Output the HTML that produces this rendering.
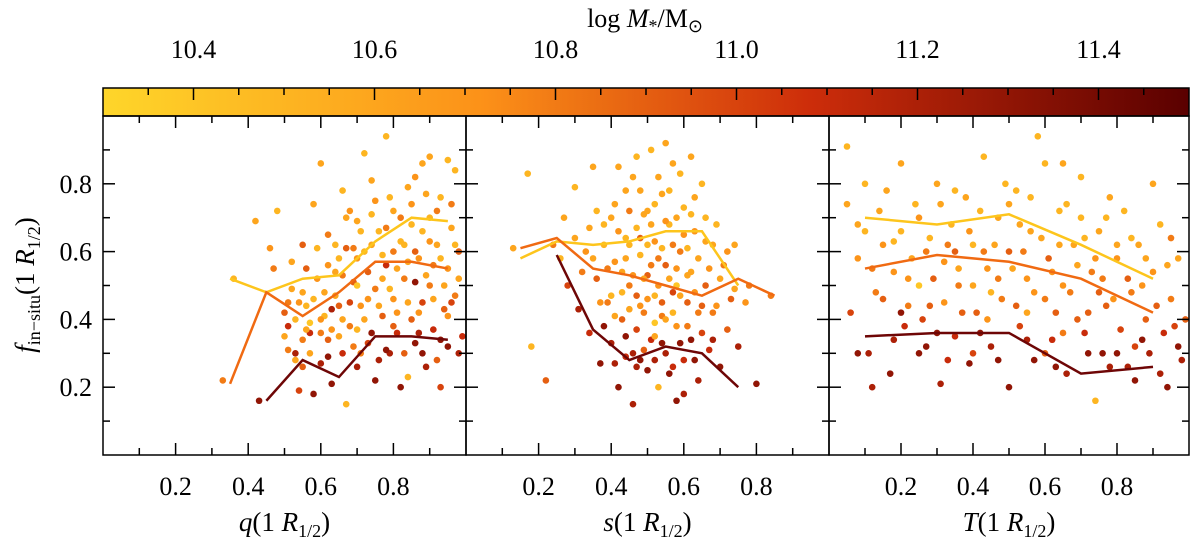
<!DOCTYPE html>
<html><head><meta charset="utf-8"><style>
body{margin:0;background:#fff;width:1200px;height:542px;overflow:hidden}
svg text{font-family:"Liberation Serif",serif;fill:#000}
</style></head><body>
<svg id="c" width="1200" height="542" xmlns="http://www.w3.org/2000/svg"></svg>
<script>
// ---- data ----
const cbTicks=[10.4,10.6,10.8,11.0,11.2,11.4];
const xTicks=[0.2,0.4,0.6,0.8];
const yTicks=[0.2,0.4,0.6,0.8];
const panelTitles=["q","s","T"];
// points: [x, f_insitu, logM]
const ptsQ=[[0.33,0.22,10.8],[0.36,0.52,10.5],[0.42,0.69,10.6],[0.43,0.16,11.3],[0.46,0.61,10.7],[0.47,0.55,10.8],[0.48,0.72,10.5],[0.5,0.42,10.9],[0.51,0.38,11.1],[0.52,0.57,10.6],[0.53,0.3,11.2],[0.54,0.19,11.0],[0.55,0.34,10.8],[0.55,0.62,10.9],[0.56,0.44,10.5],[0.57,0.36,11.1],[0.58,0.74,10.6],[0.58,0.18,11.3],[0.59,0.52,10.7],[0.6,0.27,11.2],[0.61,0.41,10.5],[0.62,0.65,10.8],[0.62,0.34,10.9],[0.63,0.21,11.3],[0.64,0.47,10.6],[0.65,0.58,10.5],[0.66,0.3,11.1],[0.66,0.78,10.5],[0.67,0.15,10.5],[0.68,0.38,10.8],[0.69,0.51,10.9],[0.7,0.69,10.6],[0.7,0.26,11.2],[0.71,0.44,10.7],[0.72,0.6,10.5],[0.73,0.33,11.0],[0.74,0.81,10.6],[0.75,0.49,10.8],[0.75,0.22,11.3],[0.76,0.66,10.5],[0.77,0.41,10.9],[0.78,0.56,11.1],[0.78,0.94,10.5],[0.79,0.3,11.2],[0.8,0.72,10.6],[0.8,0.46,10.7],[0.81,0.36,11.1],[0.82,0.63,10.5],[0.82,0.2,11.3],[0.83,0.52,10.8],[0.84,0.79,10.6],[0.85,0.4,10.9],[0.85,0.68,10.5],[0.86,0.33,11.3],[0.87,0.58,10.7],[0.88,0.45,11.0],[0.88,0.86,10.6],[0.89,0.26,11.2],[0.9,0.7,10.5],[0.9,0.5,10.8],[0.91,0.37,11.1],[0.92,0.62,10.6],[0.93,0.76,10.5],[0.93,0.2,11.0],[0.94,0.43,10.9],[0.95,0.55,10.7],[0.95,0.32,11.3],[0.96,0.67,10.6],[0.97,0.84,10.5],[0.97,0.47,10.8],[0.98,0.3,11.2],[0.98,0.6,10.9],[0.6,0.86,10.6],[0.68,0.72,10.7],[0.72,0.89,10.5],[0.52,0.49,10.6],[0.57,0.39,10.4],[0.63,0.37,10.7],[0.74,0.36,11.3],[0.86,0.51,11.3],[0.92,0.28,10.9],[0.84,0.23,10.5],[0.78,0.31,11.3],[0.65,0.44,10.9],[0.55,0.26,10.9],[0.9,0.88,10.6],[0.8,0.6,10.8],[0.7,0.5,10.4],
[0.5,0.35,10.6],[0.51,0.31,10.8],[0.53,0.4,10.5],[0.54,0.45,10.7],[0.56,0.55,10.9],[0.57,0.3,10.6],[0.59,0.61,10.5],[0.6,0.36,10.8],[0.61,0.48,10.6],[0.62,0.56,10.7],[0.63,0.43,11.2],[0.64,0.62,10.5],[0.65,0.35,10.6],[0.66,0.53,10.8],[0.67,0.7,10.6],[0.68,0.45,11.0],[0.69,0.32,10.8],[0.7,0.58,10.7],[0.71,0.66,10.5],[0.72,0.4,10.6],[0.73,0.54,10.9],[0.74,0.62,10.6],[0.75,0.75,10.7],[0.76,0.44,10.6],[0.77,0.59,10.5],[0.78,0.67,10.8],[0.79,0.49,10.5],[0.8,0.38,10.9],[0.81,0.55,10.6],[0.82,0.7,10.8],[0.83,0.62,10.5],[0.84,0.45,10.6],[0.85,0.74,10.7],[0.86,0.6,10.9],[0.87,0.42,10.7],[0.88,0.66,10.5],[0.89,0.53,10.6],[0.9,0.63,10.7],[0.91,0.46,10.6],[0.92,0.72,10.8],[0.93,0.58,10.5],[0.94,0.5,10.6],[0.95,0.41,10.7],[0.96,0.74,10.8],[0.97,0.62,10.5],[0.98,0.52,10.6],[0.99,0.35,11.1],[0.76,0.28,11.2],[0.83,0.3,10.9],[0.87,0.36,11.2],[0.93,0.34,11.3],[0.71,0.3,10.8],[0.66,0.4,10.6],[0.58,0.46,10.5],[0.55,0.48,10.6],[0.62,0.29,11.3],[0.73,0.46,10.7],[0.89,0.77,10.6],[0.95,0.87,10.5],[0.79,0.76,10.5],[0.64,0.54,10.6],[0.69,0.61,10.8],[0.84,0.57,10.6],[0.91,0.56,10.8],[0.77,0.52,10.6],[0.6,0.4,10.7],[0.53,0.28,10.6],[0.96,0.45,11.0],[0.88,0.3,11.3],[0.74,0.71,10.5],[0.86,0.82,10.7],[0.67,0.61,10.9],[0.56,0.37,10.6],[0.51,0.45,10.8],[0.81,0.42,10.7],[0.7,0.37,10.5]];
const ptsS=[[0.13,0.61,10.6],[0.17,0.83,10.5],[0.18,0.32,10.5],[0.22,0.22,10.9],[0.24,0.62,10.8],[0.27,0.7,10.6],[0.28,0.5,11.0],[0.3,0.79,10.5],[0.31,0.43,11.2],[0.33,0.6,10.7],[0.34,0.36,11.1],[0.35,0.85,10.6],[0.36,0.52,10.9],[0.37,0.27,11.3],[0.38,0.68,10.5],[0.39,0.45,10.8],[0.4,0.33,11.2],[0.41,0.74,10.6],[0.41,0.57,10.7],[0.42,0.2,11.3],[0.43,0.4,10.9],[0.44,0.64,10.5],[0.44,0.29,11.1],[0.45,0.5,10.8],[0.46,0.82,10.6],[0.46,0.15,11.2],[0.47,0.37,11.0],[0.48,0.59,10.5],[0.48,0.44,10.7],[0.49,0.71,10.6],[0.5,0.25,11.3],[0.5,0.53,10.9],[0.51,0.9,10.5],[0.51,0.34,11.1],[0.52,0.63,10.7],[0.52,0.47,10.5],[0.53,0.2,10.5],[0.54,0.77,10.6],[0.54,0.41,10.8],[0.55,0.56,10.9],[0.55,0.3,11.2],[0.56,0.68,10.5],[0.57,0.48,11.0],[0.57,0.86,10.6],[0.58,0.38,10.7],[0.58,0.16,11.3],[0.59,0.6,10.8],[0.6,0.28,11.1],[0.6,0.73,10.5],[0.61,0.45,10.9],[0.62,0.54,10.6],[0.62,0.34,11.3],[0.63,0.66,10.7],[0.64,0.42,10.8],[0.64,0.22,11.2],[0.65,0.8,10.5],[0.66,0.5,10.9],[0.67,0.31,11.1],[0.68,0.62,10.6],[0.69,0.44,10.7],[0.7,0.26,11.3],[0.71,0.56,10.8],[0.72,0.37,10.9],[0.74,0.49,10.6],[0.75,0.32,11.2],[0.77,0.45,10.7],[0.8,0.21,11.3],[0.84,0.47,10.8],[0.45,0.62,10.5],[0.5,0.72,10.6],[0.53,0.58,10.8],[0.47,0.26,11.2],[0.56,0.24,11.3],[0.6,0.18,11.2],[0.43,0.54,10.6],[0.52,0.39,10.4],[0.58,0.5,10.4],[0.4,0.47,10.5],[0.36,0.72,10.5],[0.63,0.76,10.6],[0.49,0.31,10.9],[0.55,0.92,10.6],[0.61,0.61,10.5],[0.66,0.7,10.5],[0.42,0.85,10.6],[0.48,0.64,10.9],
[0.35,0.58,10.6],[0.37,0.45,10.7],[0.38,0.62,10.5],[0.39,0.55,10.8],[0.4,0.7,10.6],[0.41,0.41,10.6],[0.42,0.66,10.7],[0.43,0.48,10.5],[0.44,0.58,10.6],[0.45,0.72,10.8],[0.45,0.43,10.6],[0.46,0.53,10.7],[0.47,0.67,10.5],[0.47,0.47,10.9],[0.48,0.78,10.6],[0.49,0.52,10.6],[0.49,0.42,10.8],[0.5,0.62,10.5],[0.5,0.46,10.7],[0.51,0.68,10.6],[0.51,0.56,10.8],[0.52,0.74,10.5],[0.52,0.35,10.6],[0.53,0.5,10.7],[0.53,0.82,10.6],[0.54,0.61,10.5],[0.54,0.45,10.9],[0.55,0.69,10.7],[0.55,0.4,10.6],[0.56,0.52,10.6],[0.56,0.78,10.5],[0.57,0.62,10.8],[0.57,0.42,10.5],[0.58,0.7,10.6],[0.58,0.55,10.7],[0.59,0.47,10.6],[0.59,0.83,10.5],[0.6,0.65,10.7],[0.61,0.53,10.6],[0.61,0.38,10.8],[0.62,0.71,10.5],[0.63,0.48,10.7],[0.64,0.58,10.6],[0.65,0.44,10.9],[0.66,0.63,10.6],[0.67,0.55,10.7],[0.68,0.42,10.8],[0.69,0.68,10.5],[0.72,0.6,10.7],[0.73,0.46,10.9],[0.44,0.35,11.3],[0.46,0.3,11.2],[0.48,0.28,11.3],[0.52,0.28,11.2],[0.54,0.33,11.3],[0.57,0.26,11.1],[0.59,0.33,11.3],[0.63,0.28,11.3],[0.65,0.36,11.0],[0.41,0.27,11.2],[0.38,0.38,11.3],[0.68,0.34,11.2],[0.34,0.67,10.6],[0.32,0.54,10.8],[0.26,0.58,10.5],[0.3,0.64,10.6],[0.7,0.52,10.6],[0.74,0.62,10.6],[0.78,0.5,10.8],[0.47,0.88,10.5],[0.62,0.88,10.6],[0.44,0.78,10.6]];
const ptsT=[[0.05,0.91,10.5],[0.06,0.42,11.0],[0.08,0.68,10.6],[0.1,0.8,10.5],[0.11,0.3,11.2],[0.12,0.55,10.8],[0.14,0.72,10.6],[0.15,0.46,10.9],[0.17,0.24,11.3],[0.18,0.63,10.5],[0.2,0.86,10.6],[0.21,0.38,11.1],[0.22,0.52,10.7],[0.24,0.74,10.5],[0.25,0.3,11.3],[0.27,0.6,10.8],[0.28,0.44,10.9],[0.3,0.8,10.6],[0.31,0.21,11.2],[0.32,0.57,10.7],[0.34,0.68,10.5],[0.35,0.35,11.1],[0.36,0.5,10.8],[0.38,0.76,10.6],[0.39,0.27,11.3],[0.4,0.62,10.5],[0.41,0.42,10.9],[0.43,0.88,10.5],[0.44,0.55,10.7],[0.45,0.32,11.2],[0.47,0.7,10.6],[0.48,0.46,10.8],[0.5,0.2,11.3],[0.5,0.6,10.9],[0.52,0.78,10.5],[0.53,0.38,11.0],[0.55,0.52,10.7],[0.56,0.66,10.6],[0.57,0.28,11.3],[0.58,0.94,10.5],[0.6,0.46,10.8],[0.61,0.58,10.9],[0.62,0.34,11.1],[0.64,0.72,10.5],[0.65,0.5,10.7],[0.66,0.24,11.2],[0.68,0.62,10.6],[0.69,0.4,10.9],[0.7,0.82,10.5],[0.72,0.3,11.3],[0.73,0.54,10.8],[0.74,0.16,10.5],[0.75,0.66,10.6],[0.77,0.44,10.9],[0.78,0.26,11.2],[0.8,0.58,10.7],[0.81,0.37,11.0],[0.82,0.72,10.5],[0.84,0.48,10.8],[0.85,0.22,11.3],[0.86,0.62,10.6],[0.88,0.4,10.9],[0.89,0.3,11.2],[0.9,0.54,10.7],[0.92,0.68,10.5],[0.93,0.36,11.1],[0.94,0.2,11.3],[0.95,0.46,10.8],[0.97,0.58,10.6],[0.98,0.28,11.2],[0.99,0.4,10.9],[0.15,0.62,10.7],[0.25,0.5,10.4],[0.35,0.6,10.9],[0.45,0.48,10.5],[0.55,0.42,10.6],[0.65,0.36,10.8],[0.75,0.48,10.9],[0.85,0.32,11.0],[0.2,0.42,11.3],[0.4,0.3,11.0],[0.6,0.3,10.9],[0.8,0.3,11.3],[0.12,0.2,11.2],[0.3,0.36,11.3],[0.5,0.74,10.6],[0.7,0.7,10.5],[0.9,0.8,10.6],
[0.08,0.58,10.7],[0.1,0.66,10.5],[0.13,0.48,10.8],[0.16,0.78,10.6],[0.18,0.54,10.7],[0.2,0.66,10.5],[0.22,0.44,10.8],[0.23,0.58,10.6],[0.25,0.7,10.7],[0.26,0.4,11.0],[0.28,0.64,10.5],[0.29,0.52,10.9],[0.31,0.74,10.6],[0.32,0.45,10.7],[0.33,0.62,10.8],[0.35,0.78,10.5],[0.36,0.55,10.6],[0.37,0.42,10.9],[0.39,0.66,10.7],[0.4,0.5,10.6],[0.42,0.72,10.5],[0.43,0.6,10.8],[0.44,0.4,10.7],[0.46,0.62,10.6],[0.47,0.52,10.8],[0.49,0.8,10.5],[0.51,0.55,10.6],[0.52,0.44,10.9],[0.53,0.68,10.6],[0.54,0.6,10.8],[0.56,0.76,10.5],[0.57,0.48,10.7],[0.59,0.64,10.6],[0.6,0.86,10.5],[0.62,0.54,10.7],[0.63,0.42,10.9],[0.64,0.62,10.6],[0.66,0.74,10.5],[0.67,0.48,10.8],[0.69,0.56,10.6],[0.71,0.64,10.5],[0.72,0.42,10.9],[0.74,0.58,10.7],[0.76,0.52,10.8],[0.77,0.7,10.5],[0.79,0.46,10.7],[0.8,0.62,10.6],[0.83,0.52,10.9],[0.84,0.64,10.5],[0.87,0.5,10.7],[0.88,0.58,10.6],[0.91,0.44,10.9],[0.94,0.56,10.6],[0.96,0.38,11.0],[0.18,0.34,11.2],[0.27,0.32,11.3],[0.33,0.28,11.1],[0.42,0.36,11.3],[0.47,0.28,11.3],[0.55,0.34,11.2],[0.63,0.26,11.3],[0.71,0.36,11.1],[0.76,0.3,11.3],[0.83,0.26,11.2],[0.87,0.34,11.3],[0.92,0.24,11.2],[0.97,0.32,11.3],[0.08,0.3,11.3],[0.05,0.74,10.6],[0.65,0.86,10.6],[0.78,0.76,10.6],[0.95,0.64,10.8]];
// binned median lines: [x, f]
const linesQ=[[[0.35,0.52],[0.45,0.48],[0.55,0.52],[0.65,0.53],[0.75,0.63],[0.85,0.7],[0.95,0.69]],[[0.35,0.21],[0.45,0.48],[0.55,0.41],[0.65,0.48],[0.75,0.57],[0.85,0.57],[0.95,0.55]],[[0.45,0.16],[0.55,0.28],[0.65,0.23],[0.75,0.35],[0.85,0.35],[0.95,0.34]]];
const linesS=[[[0.15,0.58],[0.25,0.63],[0.35,0.62],[0.45,0.63],[0.55,0.66],[0.65,0.66],[0.75,0.5]],[[0.15,0.61],[0.25,0.64],[0.35,0.55],[0.45,0.53],[0.55,0.5],[0.65,0.47],[0.75,0.52],[0.85,0.47]],[[0.25,0.59],[0.35,0.37],[0.45,0.28],[0.55,0.32],[0.65,0.3],[0.75,0.2]]];
const linesT=[[[0.1,0.7],[0.3,0.68],[0.5,0.71],[0.7,0.62],[0.9,0.52]],[[0.1,0.55],[0.3,0.59],[0.5,0.57],[0.7,0.52],[0.9,0.42]],[[0.1,0.35],[0.3,0.36],[0.5,0.36],[0.7,0.24],[0.9,0.26]]];
const lineColors=["#fdc51c","#f06a12","#6e0606"];

// ---- drawing ----
const svg=document.getElementById('c');const NS="http://www.w3.org/2000/svg";
function mk(t,a,p){const e=document.createElementNS(NS,t);for(const k in a)e.setAttribute(k,a[k]);(p||svg).appendChild(e);return e;}
const stops=[[0,[254,214,42]],[0.35,[252,145,24]],[0.65,[205,45,10]],[1,[90,0,0]]];
const mMin=10.3,mMax=11.5;
function cmap(m){let t=Math.max(0,Math.min(1,(m-mMin)/(mMax-mMin)));for(let i=1;i<stops.length;i++){if(t<=stops[i][0]){const a=stops[i-1],b=stops[i];const u=(t-a[0])/(b[0]-a[0]);return 'rgb('+a[1].map((v,j)=>Math.round(v+(b[1][j]-v)*u)).join(',')+')';}}return 'rgb(90,0,0)';}
const cbX0=103,cbX1=1189,cbY0=88,cbY1=116;
const cbx=m=>cbX0+(m-mMin)/(mMax-mMin)*(cbX1-cbX0);
const defs=mk('defs',{});const lg=mk('linearGradient',{id:'g',x1:0,x2:1,y1:0,y2:0},defs);
for(let i=0;i<=20;i++){mk('stop',{offset:i/20,'stop-color':cmap(mMin+i/20*(mMax-mMin))},lg);}
const cb=mk('rect',{x:cbX0,y:cbY0,width:cbX1-cbX0,height:cbY1-cbY0,fill:'url(#g)',stroke:'#000','stroke-width':1.5});

for(let m=10.35;m<11.5;m+=0.05){const x=cbx(m);mk('line',{x1:x,x2:x,y1:cbY0,y2:cbY0+(cbTicks.some(v=>Math.abs(v-m)<1e-6)?12:7),stroke:'#000','stroke-width':1.5});}
cbTicks.forEach(v=>{const t=mk('text',{x:cbx(v),y:58,'font-size':26,'text-anchor':'middle'});t.textContent=v.toFixed(1);});
const ttl=mk('text',{x:645,y:27,'font-size':26,'text-anchor':'middle'});ttl.innerHTML='log <tspan font-style="italic">M</tspan><tspan font-size="18" dy="5">*</tspan><tspan dy="-5">/M</tspan><tspan font-size="18" dy="5">⊙</tspan>';


const pY0=116,pY1=455;
const ys=f=>pY1-f*(pY1-pY0);
const panels=[[103,466,ptsQ,linesQ],[466,829,ptsS,linesS],[829,1189,ptsT,linesT]];
panels.forEach(([x0,x1,pts,lines],pi)=>{
  const g=mk('g',{});
  const xs=v=>x0+v*(x1-x0);
  pts.forEach(p=>{const c=mk('circle',{cx:xs(p[0]),cy:ys(p[1]),r:3.3,fill:cmap(p[2])},g);});
  lines.forEach((l,li)=>{const pl=mk('polyline',{points:l.map(p=>xs(p[0])+','+ys(p[1])).join(' '),fill:'none',stroke:lineColors[li],'stroke-width':2.5},g);});
  for(let i=1;i<10;i++){const v=i/10,x=xs(v),L=(i%2==0)?12:7;
    mk('line',{x1:x,x2:x,y1:pY1,y2:pY1-L,stroke:'#000','stroke-width':1.5},g);mk('line',{x1:x,x2:x,y1:pY0,y2:pY0+L,stroke:'#000','stroke-width':1.5},g);
    const y=ys(v);mk('line',{x1:x0,x2:x0+L,y1:y,y2:y,stroke:'#000','stroke-width':1.5},g);mk('line',{x1:x1,x2:x1-L,y1:y,y2:y,stroke:'#000','stroke-width':1.5},g);}
  mk('rect',{x:x0,y:pY0,width:x1-x0,height:pY1-pY0,fill:'none',stroke:'#000','stroke-width':1.5},g);
  xTicks.forEach(v=>{const t=mk('text',{x:xs(v),y:495,'font-size':26,'text-anchor':'middle'},g);t.textContent=v.toFixed(1);});
  const at=mk('text',{x:(x0+x1)/2,y:531,'font-size':27,'text-anchor':'middle'},g);
  at.innerHTML='<tspan font-style="italic">'+panelTitles[pi]+'</tspan>(1 <tspan font-style="italic">R</tspan><tspan font-size="18" dy="6">1/2</tspan><tspan dy="-6">)</tspan>';
  
});
yTicks.forEach(v=>{const t=mk('text',{x:92,y:ys(v)+9,'font-size':26,'text-anchor':'end'});t.textContent=v.toFixed(1);});
const yt=mk('text',{x:0,y:0,'font-size':27,'text-anchor':'middle',transform:'translate(34,285) rotate(-90)'});
yt.innerHTML='<tspan font-style="italic">f</tspan><tspan font-size="18" dy="6">in−situ</tspan><tspan dy="-6">(1 </tspan><tspan font-style="italic">R</tspan><tspan font-size="18" dy="6">1/2</tspan><tspan dy="-6">)</tspan>';

</script>
</body></html>
